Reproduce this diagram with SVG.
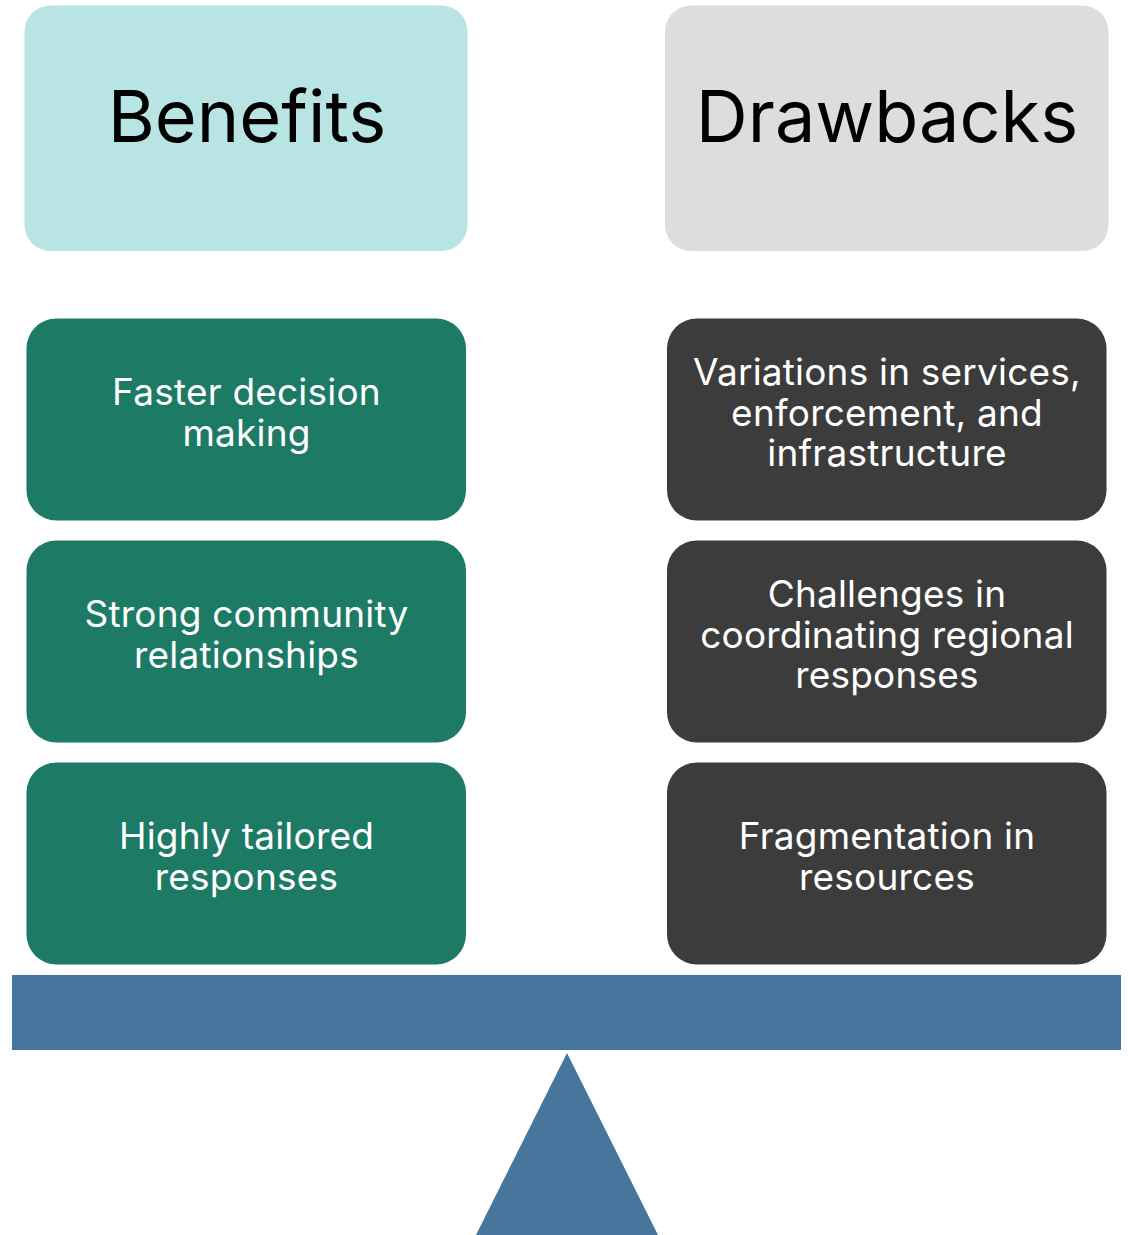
<svg xmlns="http://www.w3.org/2000/svg" width="1128" height="1235" viewBox="0 0 1128 1235">
<style>
text{font-family:Inter,"Noto Sans","Liberation Sans",sans-serif;text-anchor:middle}
.h{font-size:72px;fill:#000}
.t{font-size:37px;fill:#fff;letter-spacing:0.2px}
.g{fill:#1D7A64}
.d{fill:#3C3C3C}
.b{fill:#46769E}
</style>
<rect width="1128" height="1235" fill="#fff"/>
<g id="benefits-header"><rect x="24.5" y="5.5" width="443" height="245.5" rx="26" fill="#B8E4E3"/><text class="h" x="247" y="141.7">Benefits</text></g>
<g id="drawbacks-header"><rect x="665" y="5.5" width="443.5" height="245.5" rx="26" fill="#DDDDDD"/><text class="h" x="887" y="141.7">Drawbacks</text></g>
<g id="b1"><rect class="g" x="26.5" y="318.5" width="439.5" height="202" rx="30"/><text class="t" x="246.5" y="405">Faster decision</text><text class="t" x="246.5" y="445.5">making</text></g>
<g id="b2"><rect class="g" x="26.5" y="540.5" width="439.5" height="202" rx="30"/><text class="t" x="246.5" y="627">Strong community</text><text class="t" x="246.5" y="667.5">relationships</text></g>
<g id="b3"><rect class="g" x="26.5" y="762.5" width="439.5" height="202" rx="30"/><text class="t" x="246.5" y="849">Highly tailored</text><text class="t" x="246.5" y="889.5">responses</text></g>
<g id="d1"><rect class="d" x="667" y="318.5" width="439.5" height="202" rx="30"/><text class="t" x="887" y="385">Variations in services,</text><text class="t" x="887" y="425.5">enforcement, and</text><text class="t" x="887" y="466">infrastructure</text></g>
<g id="d2"><rect class="d" x="667" y="540.5" width="439.5" height="202" rx="30"/><text class="t" x="887" y="607">Challenges in</text><text class="t" x="887" y="647.5">coordinating regional</text><text class="t" x="887" y="688">responses</text></g>
<g id="d3"><rect class="d" x="667" y="762.5" width="439.5" height="202" rx="30"/><text class="t" x="887" y="849">Fragmentation in</text><text class="t" x="887" y="889.5">resources</text></g>
<g id="beam"><rect class="b" x="12" y="975" width="1109" height="75"/></g>
<g id="fulcrum"><polygon class="b" points="567,1053 476,1235 658,1235"/></g>
<g id="connectors"></g>
</svg>
